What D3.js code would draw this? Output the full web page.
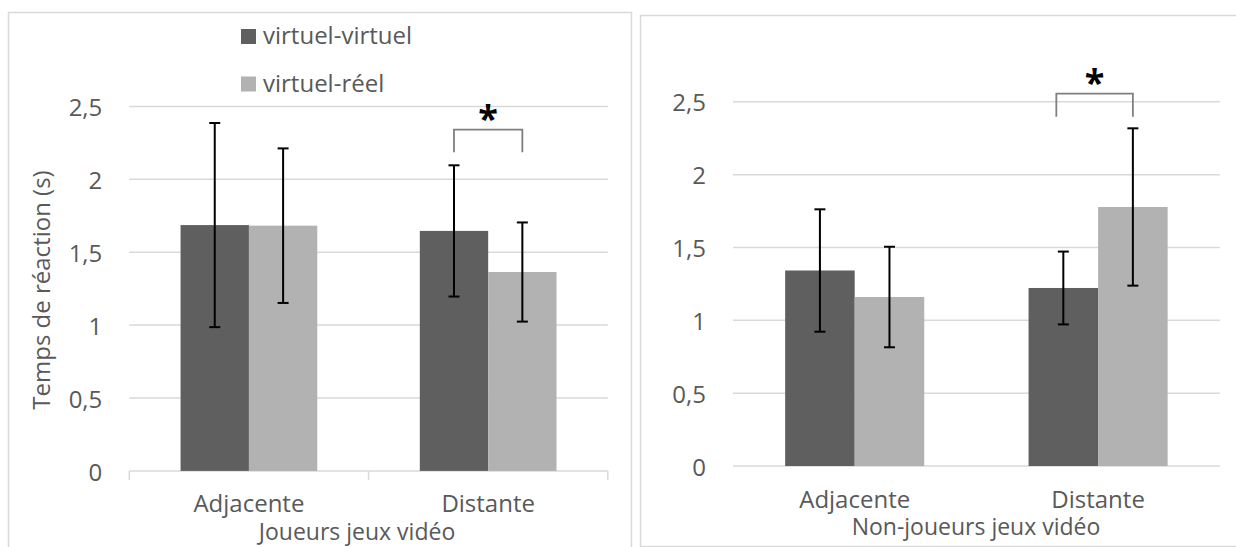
<!DOCTYPE html>
<html>
<head>
<meta charset="utf-8">
<script src="https://cdn.jsdelivr.net/npm/d3@7"></script>
<style>
  html, body { margin: 0; padding: 0; background: #ffffff; }
  svg { display: block; }
  text { font-family: "Open Sans", "Noto Sans", sans-serif; fill: #595959; }
</style>
</head>
<body>
<svg id="chart" width="1236" height="547"></svg>
<script>
// ---- data ----
const categories = ["Adjacente", "Distante"];
const seriesNames = ["virtuel-virtuel", "virtuel-réel"];
const yTicks = [0, 0.5, 1, 1.5, 2, 2.5];
const yTickLabels = ["0", "0,5", "1", "1,5", "2", "2,5"];

// Joueurs jeux vidéo
const playersVV = [1.686, 1.646];
const playersVR = [1.682, 1.364];
const playersErrVV = [0.70, 0.45];
const playersErrVR = [0.53, 0.34];

// Non-joueurs jeux vidéo
const nonPlayersVV = [1.342, 1.222];
const nonPlayersVR = [1.160, 1.778];
const nonPlayersErrVV = [0.42, 0.25];
const nonPlayersErrVR = [0.345, 0.54];

const panelTitles = ["Joueurs jeux vidéo", "Non-joueurs jeux vidéo"];
const yAxisTitle = "Temps de réaction (s)";
const significanceMark = "*";

// ---- styles ----
const colors = {"virtuel-virtuel": "#5f5f5f", "virtuel-réel": "#b2b2b2"};
const gridColor = "#d9d9d9";
const fs = 24;

const svg = d3.select("#chart");

// panel borders
svg.append("rect").attr("x", 8.5).attr("y", 12.5).attr("width", 623).attr("height", 600)
  .attr("fill", "none").attr("stroke", gridColor).attr("stroke-width", 1.5);
svg.append("rect").attr("x", 640.5).attr("y", 15.5).attr("width", 700).attr("height", 531)
  .attr("fill", "none").attr("stroke", gridColor).attr("stroke-width", 1.5);

function drawPanel(opt) {
  const vv = opt.vv, vr = opt.vr, evv = opt.evv, evr = opt.evr;
  const rows = categories.map((c, i) => ({
    cat: c,
    vals: [
      {s: seriesNames[0], v: vv[i], e: evv[i]},
      {s: seriesNames[1], v: vr[i], e: evr[i]}
    ]
  }));
  const y = d3.scaleLinear().domain([0, 2.5]).range([opt.y0, opt.y1]);
  const x0 = d3.scaleBand().domain(categories).range([opt.xl, opt.xr]).padding(0);
  const x1 = d3.scaleBand().domain(seriesNames).range([0, x0.bandwidth()])
    .paddingInner(0).paddingOuter(0.75);

  const g = svg.append("g");

  // gridlines
  g.append("g").selectAll("line").data(yTicks.filter(t => opt.axisLine ? t > 0 : true))
    .join("line")
    .attr("x1", opt.xl).attr("x2", opt.xr)
    .attr("y1", d => y(d)).attr("y2", d => y(d))
    .attr("stroke", gridColor).attr("stroke-width", 1.5);

  // y tick labels
  g.append("g").selectAll("text").data(yTicks).join("text")
    .attr("x", opt.xl - 27).attr("y", d => y(d)).attr("dy", "0.4em")
    .attr("text-anchor", "end").attr("font-size", fs)
    .text((d, i) => yTickLabels[i]);

  // category axis line + ticks
  if (opt.axisLine) {
    const xa = g.append("g");
    xa.append("line").attr("x1", opt.xl).attr("x2", opt.xr)
      .attr("y1", y(0)).attr("y2", y(0))
      .attr("stroke", gridColor).attr("stroke-width", 1.5);
    const edges = [opt.xl].concat(categories.map(c => x0(c) + x0.bandwidth()));
    xa.selectAll("line.tk").data(edges).join("line").attr("class", "tk")
      .attr("x1", d => d).attr("x2", d => d)
      .attr("y1", y(0)).attr("y2", y(0) + 9)
      .attr("stroke", gridColor).attr("stroke-width", 1.5);
  }

  // bars
  const groups = g.append("g").selectAll("g").data(rows).join("g")
    .attr("transform", d => `translate(${x0(d.cat)},0)`);
  groups.selectAll("rect").data(d => d.vals).join("rect")
    .attr("x", d => x1(d.s)).attr("width", x1.bandwidth())
    .attr("y", d => y(d.v)).attr("height", d => y(0) - y(d.v))
    .attr("fill", d => colors[d.s]);

  // error bars
  const eb = groups.selectAll("g.eb").data(d => d.vals).join("g").attr("class", "eb")
    .attr("transform", d => `translate(${x1(d.s) + x1.bandwidth() / 2},0)`);
  eb.append("line").attr("x1", 0).attr("x2", 0)
    .attr("y1", d => y(d.v + d.e)).attr("y2", d => y(d.v - d.e))
    .attr("stroke", "#000").attr("stroke-width", 2);
  eb.append("line").attr("x1", -5.5).attr("x2", 5.5)
    .attr("y1", d => y(d.v + d.e)).attr("y2", d => y(d.v + d.e))
    .attr("stroke", "#000").attr("stroke-width", 2);
  eb.append("line").attr("x1", -5.5).attr("x2", 5.5)
    .attr("y1", d => y(d.v - d.e)).attr("y2", d => y(d.v - d.e))
    .attr("stroke", "#000").attr("stroke-width", 2);

  // category labels
  g.append("g").selectAll("text").data(categories).join("text")
    .attr("x", d => x0(d) + x0.bandwidth() / 2).attr("y", opt.catY)
    .attr("text-anchor", "middle").attr("font-size", fs)
    .text(d => d);

  // panel title (below categories)
  g.append("text").attr("x", opt.titleX).attr("y", opt.titleY)
    .attr("text-anchor", "middle").attr("font-size", 23).text(opt.title);

  // significance bracket on "Distante"
  const bx1 = x0("Distante") + x1(seriesNames[0]) + x1.bandwidth() / 2;
  const bx2 = x0("Distante") + x1(seriesNames[1]) + x1.bandwidth() / 2;
  g.append("path")
    .attr("d", `M${bx1 + opt.bracketDx1},${opt.bracketBottom} V${opt.bracketTop} H${bx2} V${opt.bracketBottom}`)
    .attr("fill", "none").attr("stroke", "#7f7f7f").attr("stroke-width", 1.8);
  g.append("text").attr("x", (bx1 + opt.bracketDx1 + bx2) / 2).attr("y", opt.bracketTop + 1)
    .attr("text-anchor", "middle").attr("font-size", 36).attr("font-weight", "bold")
    .style("fill", "#000").text(significanceMark);

  return {x0, x1, y};
}

drawPanel({
  vv: playersVV, vr: playersVR, evv: playersErrVV, evr: playersErrVR,
  y0: 470.9, y1: 106.4, xl: 129.3, xr: 607.8,
  axisLine: true, catY: 512, title: panelTitles[0], titleX: 357, titleY: 539.5,
  bracketTop: 129.7, bracketBottom: 152.3, bracketDx1: 0
});

drawPanel({
  vv: nonPlayersVV, vr: nonPlayersVR, evv: nonPlayersErrVV, evr: nonPlayersErrVR,
  y0: 466, y1: 101.8, xl: 733, xr: 1219.8,
  axisLine: false, catY: 508, title: panelTitles[1], titleX: 976, titleY: 535,
  bracketTop: 93.7, bracketBottom: 116.7, bracketDx1: -7
});

// y axis title (left panel only)
svg.append("text")
  .attr("transform", "translate(50,290) rotate(-90)")
  .attr("text-anchor", "middle").attr("font-size", fs)
  .text(yAxisTitle);

// legend
const legend = svg.append("g");
const legendRows = legend.selectAll("g").data(seriesNames).join("g")
  .attr("transform", (d, i) => `translate(241,${29 + i * 47.5})`);
legendRows.append("rect").attr("width", 15).attr("height", 15)
  .attr("fill", d => colors[d]);
legendRows.append("text").attr("x", 22).attr("y", 15)
  .attr("font-size", fs).text(d => d);
</script>
</body>
</html>
